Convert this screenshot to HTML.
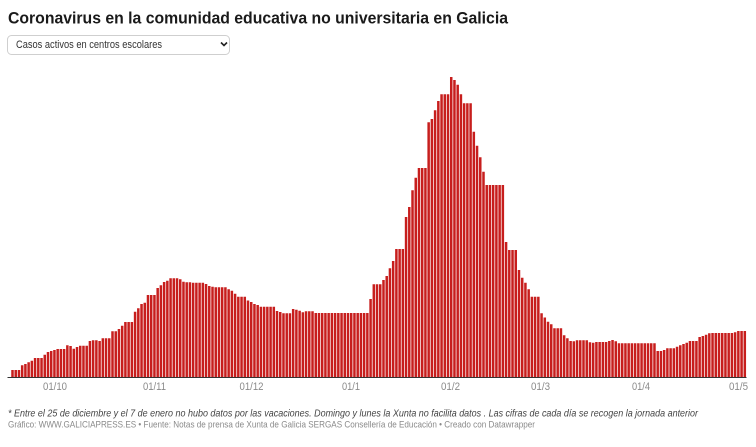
<!DOCTYPE html>
<html><head><meta charset="utf-8"><style>
html,body{margin:0;padding:0;background:#fff;}
body{width:756px;height:447px;overflow:hidden;}
svg{display:block;}
</style></head><body>
<svg width="756" height="447" viewBox="0 0 756 447" xmlns="http://www.w3.org/2000/svg">
<rect x="0" y="0" width="756" height="447" fill="#fff"/>
<text x="8" y="23.3" font-family="Liberation Sans, Arial, sans-serif" font-weight="bold" font-size="16.5" fill="#1a1a1a" textLength="500" lengthAdjust="spacingAndGlyphs">Coronavirus en la comunidad educativa no universitaria en Galicia</text>
<rect x="7.5" y="35.5" width="222" height="19" rx="4" ry="4" fill="#fff" stroke="#cfcfcf" stroke-width="1"/>
<text x="16" y="48" font-family="Liberation Sans, Arial, sans-serif" font-size="11" fill="#333" textLength="146" lengthAdjust="spacingAndGlyphs">Casos activos en centros escolares</text>
<path d="M221 42.5l3 3l3 -3" fill="none" stroke="#222" stroke-width="1.6"/>
<path fill="#c71e1d" d="M11.25 377
v-7h2.5v7zm3.226 0v-7h2.5v7zm3.226 0v-7h2.5v7zm3.226 0v-11.7h2.5v11.7zm3.226 0v-13h2.5v13zm3.226 0v-14.7h2.5v14.7zm3.226 0v-16.3h2.5v16.3zm3.226 0
v-19h2.5v19zm3.226 0v-19h2.5v19zm3.226 0v-19h2.5v19zm3.226 0v-22.3h2.5v22.3zm3.226 0v-25h2.5v25zm3.226 0v-26h2.5v26zm3.226 0v-27h2.5v27zm3.226 0
v-28h2.5v28zm3.226 0v-28h2.5v28zm3.226 0v-28h2.5v28zm3.226 0v-31.7h2.5v31.7zm3.226 0v-31h2.5v31zm3.226 0v-28.3h2.5v28.3zm3.226 0v-30h2.5v30zm3.226 0
v-31.3h2.5v31.3zm3.226 0v-31.3h2.5v31.3zm3.226 0v-31.3h2.5v31.3zm3.226 0v-36h2.5v36zm3.226 0v-36.7h2.5v36.7zm3.226 0v-36.7h2.5v36.7zm3.226 0v-36h2.5v36zm3.226 0
v-38.7h2.5v38.7zm3.226 0v-38.7h2.5v38.7zm3.226 0v-38.7h2.5v38.7zm3.226 0v-45.7h2.5v45.7zm3.226 0v-45.7h2.5v45.7zm3.226 0v-48h2.5v48zm3.226 0v-51.3h2.5v51.3zm3.226 0
v-55h2.5v55zm3.226 0v-55h2.5v55zm3.226 0v-55h2.5v55zm3.226 0v-65.3h2.5v65.3zm3.226 0v-68.7h2.5v68.7zm3.226 0v-73h2.5v73zm3.226 0v-74.3h2.5v74.3zm3.226 0
v-82h2.5v82zm3.226 0v-82h2.5v82zm3.226 0v-82h2.5v82zm3.226 0v-89h2.5v89zm3.226 0v-91.7h2.5v91.7zm3.226 0v-95h2.5v95zm3.226 0v-96.3h2.5v96.3zm3.226 0
v-98.7h2.5v98.7zm3.226 0v-98.7h2.5v98.7zm3.226 0v-98.7h2.5v98.7zm3.226 0v-97.7h2.5v97.7zm3.226 0v-95.3h2.5v95.3zm3.226 0v-94.7h2.5v94.7zm3.226 0v-94.7h2.5v94.7zm3.226 0
v-94.3h2.5v94.3zm3.226 0v-94.3h2.5v94.3zm3.226 0v-94.3h2.5v94.3zm3.226 0v-94.3h2.5v94.3zm3.226 0v-93h2.5v93zm3.226 0v-91h2.5v91zm3.226 0v-90.3h2.5v90.3zm3.226 0
v-89.7h2.5v89.7zm3.226 0v-89.7h2.5v89.7zm3.226 0v-89.7h2.5v89.7zm3.226 0v-89.7h2.5v89.7zm3.226 0v-87.7h2.5v87.7zm3.226 0v-86.3h2.5v86.3zm3.226 0v-83.3h2.5v83.3zm3.226 0
v-80.3h2.5v80.3zm3.226 0v-80.3h2.5v80.3zm3.226 0v-80.3h2.5v80.3zm3.226 0v-76.5h2.5v76.5zm3.226 0v-75h2.5v75zm3.226 0v-73h2.5v73zm3.226 0v-72h2.5v72zm3.226 0
v-70.3h2.5v70.3zm3.226 0v-70.3h2.5v70.3zm3.226 0v-70.3h2.5v70.3zm3.226 0v-70.3h2.5v70.3zm3.226 0v-70.3h2.5v70.3zm3.226 0v-66h2.5v66zm3.226 0v-65h2.5v65zm3.226 0
v-63.7h2.5v63.7zm3.226 0v-63.7h2.5v63.7zm3.226 0v-63.7h2.5v63.7zm3.226 0v-68h2.5v68zm3.226 0v-67.3h2.5v67.3zm3.226 0v-66.3h2.5v66.3zm3.226 0v-64.7h2.5v64.7zm3.226 0
v-65.7h2.5v65.7zm3.226 0v-65.7h2.5v65.7zm3.226 0v-65.7h2.5v65.7zm3.226 0
v-64h2.5v64zm3.226 0v-64h2.5v64zm3.226 0v-64h2.5v64zm3.226 0v-64h2.5v64zm3.226 0v-64h2.5v64zm3.226 0v-64h2.5v64zm3.226 0v-64h2.5v64zm3.226 0v-64h2.5v64zm3.226 0
v-64h2.5v64zm3.226 0v-64h2.5v64zm3.226 0v-64h2.5v64zm3.226 0v-64h2.5v64zm3.226 0v-64h2.5v64zm3.226 0v-64h2.5v64zm3.226 0v-64h2.5v64zm3.226 0v-64h2.5v64zm3.226 0v-64h2.5v64zm3.226 0
v-78h2.5v78zm3.226 0v-92.7h2.5v92.7zm3.226 0v-92.7h2.5v92.7zm3.226 0v-92.7h2.5v92.7zm3.226 0v-97h2.5v97zm3.226 0v-101h2.5v101zm3.226 0v-108.7h2.5v108.7zm3.226 0v-116h2.5v116zm3.226 0
v-128h2.5v128zm3.226 0v-128h2.5v128zm3.226 0v-128h2.5v128zm3.226 0v-160h2.5v160zm3.226 0v-170h2.5v170zm3.226 0v-186.7h2.5v186.7zm3.226 0v-199.3h2.5v199.3zm3.226 0
v-209h2.5v209zm3.226 0v-209h2.5v209zm3.226 0v-209h2.5v209zm3.226 0v-254.7h2.5v254.7zm3.226 0v-258h2.5v258zm3.226 0v-266.7h2.5v266.7zm3.226 0v-276h2.5v276zm3.226 0
v-282.7h2.5v282.7zm3.226 0v-282.7h2.5v282.7zm3.226 0v-282.7h2.5v282.7zm3.226 0v-300h2.5v300zm3.226 0v-297h2.5v297zm3.226 0v-292.3h2.5v292.3zm3.226 0v-282.7h2.5v282.7zm3.226 0
v-273.7h2.5v273.7zm3.226 0v-273.7h2.5v273.7zm3.226 0v-273.7h2.5v273.7zm3.226 0v-245.3h2.5v245.3zm3.226 0v-231.3h2.5v231.3zm3.226 0v-219.7h2.5v219.7zm3.226 0v-205.3h2.5v205.3zm3.226 0
v-192h2.5v192zm3.226 0v-192h2.5v192zm3.226 0v-192h2.5v192zm3.226 0v-192h2.5v192zm3.226 0v-192h2.5v192zm3.226 0v-192h2.5v192zm3.226 0v-135h2.5v135zm3.226 0
v-127h2.5v127zm3.226 0v-127h2.5v127zm3.226 0v-127h2.5v127zm3.226 0v-107h2.5v107zm3.226 0v-99.3h2.5v99.3zm3.226 0v-94.3h2.5v94.3zm3.226 0v-87.7h2.5v87.7zm3.226 0
v-80.3h2.5v80.3zm3.226 0v-80.3h2.5v80.3zm3.226 0v-80.3h2.5v80.3zm3.226 0v-63.7h2.5v63.7zm3.226 0v-59.5h2.5v59.5zm3.226 0v-55.3h2.5v55.3zm3.226 0v-52.7h2.5v52.7zm3.226 0
v-48.7h2.5v48.7zm3.226 0v-48.7h2.5v48.7zm3.226 0v-48.7h2.5v48.7zm3.226 0v-41.7h2.5v41.7zm3.226 0v-38.7h2.5v38.7zm3.226 0v-36h2.5v36zm3.226 0v-35.7h2.5v35.7zm3.226 0
v-36.7h2.5v36.7zm3.226 0v-36.7h2.5v36.7zm3.226 0v-36.7h2.5v36.7zm3.226 0v-36.7h2.5v36.7zm3.226 0v-34.7h2.5v34.7zm3.226 0v-34.3h2.5v34.3zm3.226 0
v-35h2.5v35zm3.226 0v-35h2.5v35zm3.226 0v-35h2.5v35zm3.226 0v-35h2.5v35zm3.226 0v-36h2.5v36zm3.226 0v-37h2.5v37zm3.226 0v-35.7h2.5v35.7zm3.226 0
v-33.7h2.5v33.7zm3.226 0v-33.7h2.5v33.7zm3.226 0v-33.7h2.5v33.7zm3.226 0v-33.7h2.5v33.7zm3.226 0v-33.7h2.5v33.7zm3.226 0v-33.7h2.5v33.7zm3.226 0
v-33.7h2.5v33.7zm3.226 0v-33.7h2.5v33.7zm3.226 0v-33.7h2.5v33.7zm3.226 0v-33.7h2.5v33.7zm3.226 0v-33.7h2.5v33.7zm3.226 0v-33.7h2.5v33.7zm3.226 0
v-26h2.5v26zm3.226 0v-26h2.5v26zm3.226 0v-27h2.5v27zm3.226 0v-28.7h2.5v28.7zm3.226 0v-28.7h2.5v28.7zm3.226 0v-28.7h2.5v28.7zm3.226 0
v-30.3h2.5v30.3zm3.226 0v-31.7h2.5v31.7zm3.226 0v-33h2.5v33zm3.226 0v-34.3h2.5v34.3zm3.226 0v-36h2.5v36zm3.226 0v-36h2.5v36zm3.226 0v-36h2.5v36zm3.226 0
v-40h2.5v40zm3.226 0v-41h2.5v41zm3.226 0v-42.3h2.5v42.3zm3.226 0v-43.7h2.5v43.7zm3.226 0
v-44h2.5v44zm3.226 0v-44h2.5v44zm3.226 0v-44h2.5v44zm3.226 0v-44h2.5v44zm3.226 0v-44h2.5v44zm3.226 0v-44h2.5v44zm3.226 0v-44h2.5v44zm3.226 0
v-44.7h2.5v44.7zm3.226 0v-46h2.5v46zm3.226 0v-46h2.5v46zm3.226 0v-46h2.5v46z"/>
<rect x="7.5" y="377" width="239" height="1" fill="#333"/>
<rect x="7.5" y="377" width="739" height="1" fill="#333"/>
<g font-family="Liberation Sans, Arial, sans-serif" font-size="10.8" fill="#8a8a8a">
<text x="43" y="390" textLength="24" lengthAdjust="spacingAndGlyphs">01/10</text>
<text x="143" y="390" textLength="23" lengthAdjust="spacingAndGlyphs">01/11</text>
<text x="239.5" y="390" textLength="24" lengthAdjust="spacingAndGlyphs">01/12</text>
<text x="342" y="390" textLength="18" lengthAdjust="spacingAndGlyphs">01/1</text>
<text x="441" y="390" textLength="19" lengthAdjust="spacingAndGlyphs">01/2</text>
<text x="531" y="390" textLength="19" lengthAdjust="spacingAndGlyphs">01/3</text>
<text x="632" y="390" textLength="18" lengthAdjust="spacingAndGlyphs">01/4</text>
<text x="729" y="390" textLength="19" lengthAdjust="spacingAndGlyphs">01/5</text>
</g>
<text x="8" y="416.5" font-family="Liberation Sans, Arial, sans-serif" font-style="italic" font-size="10" fill="#444" textLength="690" lengthAdjust="spacingAndGlyphs">* Entre el 25 de diciembre y el 7 de enero no hubo datos por las vacaciones. Domingo y lunes la Xunta no facilita datos . Las cifras de cada día se recogen la jornada anterior</text>
<text x="8" y="427.5" font-family="Liberation Sans, Arial, sans-serif" font-size="9.5" fill="#8a8a8a" textLength="527" lengthAdjust="spacingAndGlyphs">Gráfico: WWW.GALICIAPRESS.ES • Fuente: Notas de prensa de Xunta de Galicia SERGAS Consellería de Educación • Creado con Datawrapper</text>
</svg>
</body></html>
